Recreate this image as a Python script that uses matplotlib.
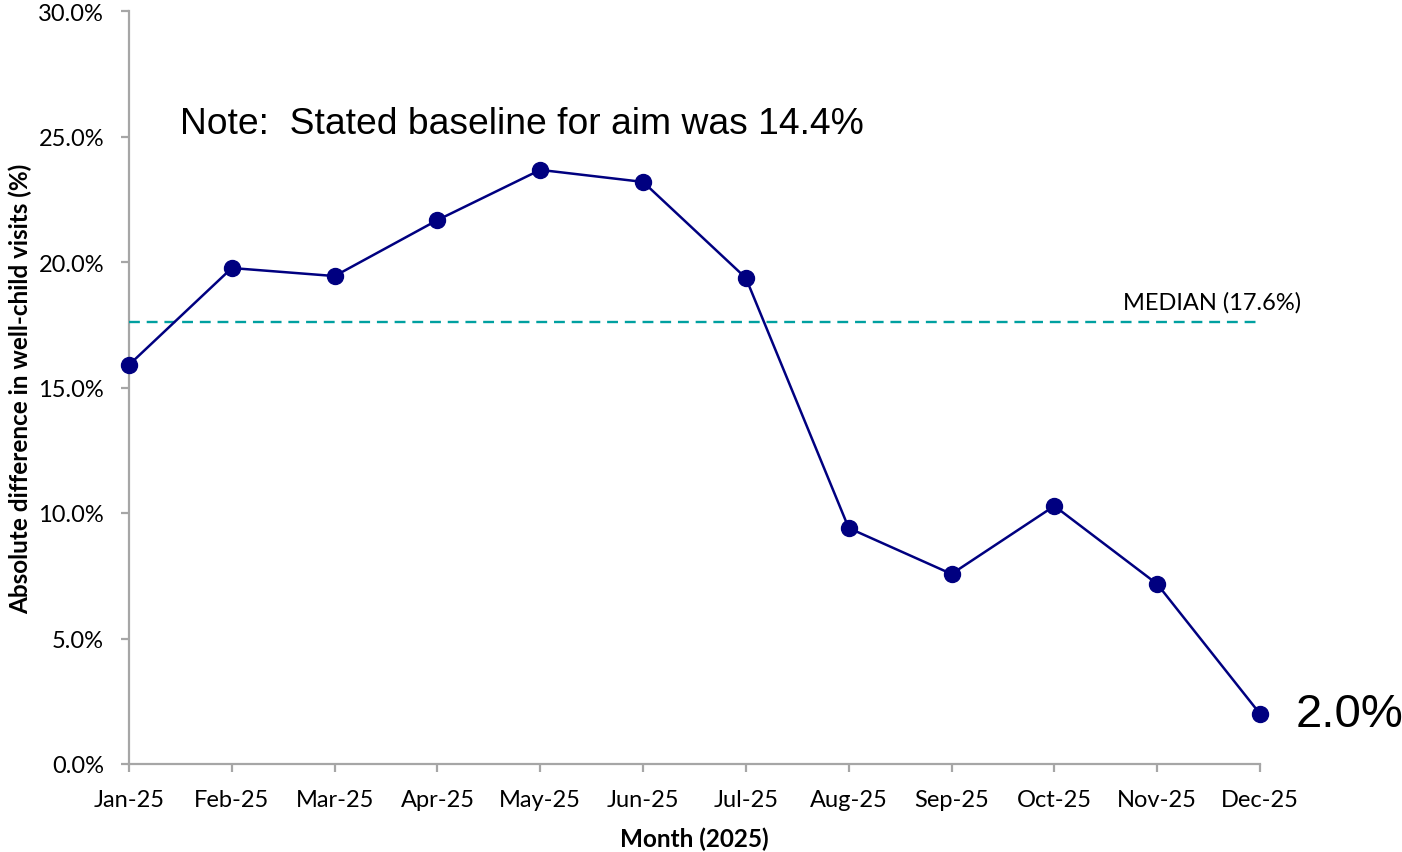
import matplotlib
matplotlib.use("Agg")
import matplotlib.pyplot as plt
from matplotlib.ticker import FuncFormatter

months = ["Jan-25", "Feb-25", "Mar-25", "Apr-25", "May-25", "Jun-25",
          "Jul-25", "Aug-25", "Sep-25", "Oct-25", "Nov-25", "Dec-25"]
values = [15.9, 19.76, 19.44, 21.67, 23.67, 23.19,
          19.36, 9.40, 7.57, 10.28, 7.17, 2.0]
median_value = 17.6
y_ticks = [0, 5, 10, 15, 20, 25, 30]

W, H = 1402, 853
fig = plt.figure(figsize=(W / 100, H / 100), dpi=100)
ax = fig.add_axes([129 / W, (H - 765) / H, (1260 - 129) / W, (765 - 12) / H])

x = list(range(len(months)))
ax.plot(x, values, color="#000080", lw=1.8, marker="o", ms=11.5,
        clip_on=False, zorder=4)
ax.plot([x[0], x[-1]], [median_value, median_value], color="#00A0A0",
        lw=1.7, dashes=(4.6, 2.9), zorder=3)

ax.set_xlim(0, len(months) - 1)
ax.set_ylim(0, 30)
ax.set_xticks(x)
ax.set_xticklabels(months)
ax.set_yticks(y_ticks)
ax.yaxis.set_major_formatter(FuncFormatter(lambda v, p: f"{v:.1f}%"))

tick_font = "Lato"
for lab in ax.get_xticklabels() + ax.get_yticklabels():
    lab.set_fontfamily(tick_font)
    lab.set_fontsize(17)
    lab.set_color("#000000")

ax.tick_params(axis="both", direction="out", length=6, width=1.6,
               color="#A6A6A6")
ax.tick_params(axis="x", pad=12)
ax.tick_params(axis="y", pad=12)

for side in ["top", "right"]:
    ax.spines[side].set_visible(False)
for side in ["left", "bottom"]:
    ax.spines[side].set_color("#A6A6A6")
    ax.spines[side].set_linewidth(1.6)

ax.set_xlabel("Month (2025)", fontfamily=tick_font, fontsize=17.5,
              fontweight="bold", labelpad=12)
ax.set_ylabel("Absolute difference in well-child visits (%)",
              fontfamily=tick_font, fontsize=17.5, fontweight="bold",
              labelpad=4)

ax.text(1212 / W, (H - 303) / H, f"MEDIAN ({median_value:.1f}%)",
        transform=fig.transFigure, ha="center", va="center",
        fontfamily=tick_font, fontsize=17)

fig.text(180 / W, (H - 125) / H, "Note:  Stated baseline for aim was 14.4%",
         ha="left", va="center", fontfamily="Liberation Sans", fontsize=26.8)

ax.annotate(f"{values[-1]:.1f}%", xy=(x[-1], values[-1]), xytext=(26, 0),
            textcoords="offset points", ha="left", va="center",
            fontfamily="Liberation Sans", fontsize=34, annotation_clip=False)

fig.savefig("out.png", dpi=100)
